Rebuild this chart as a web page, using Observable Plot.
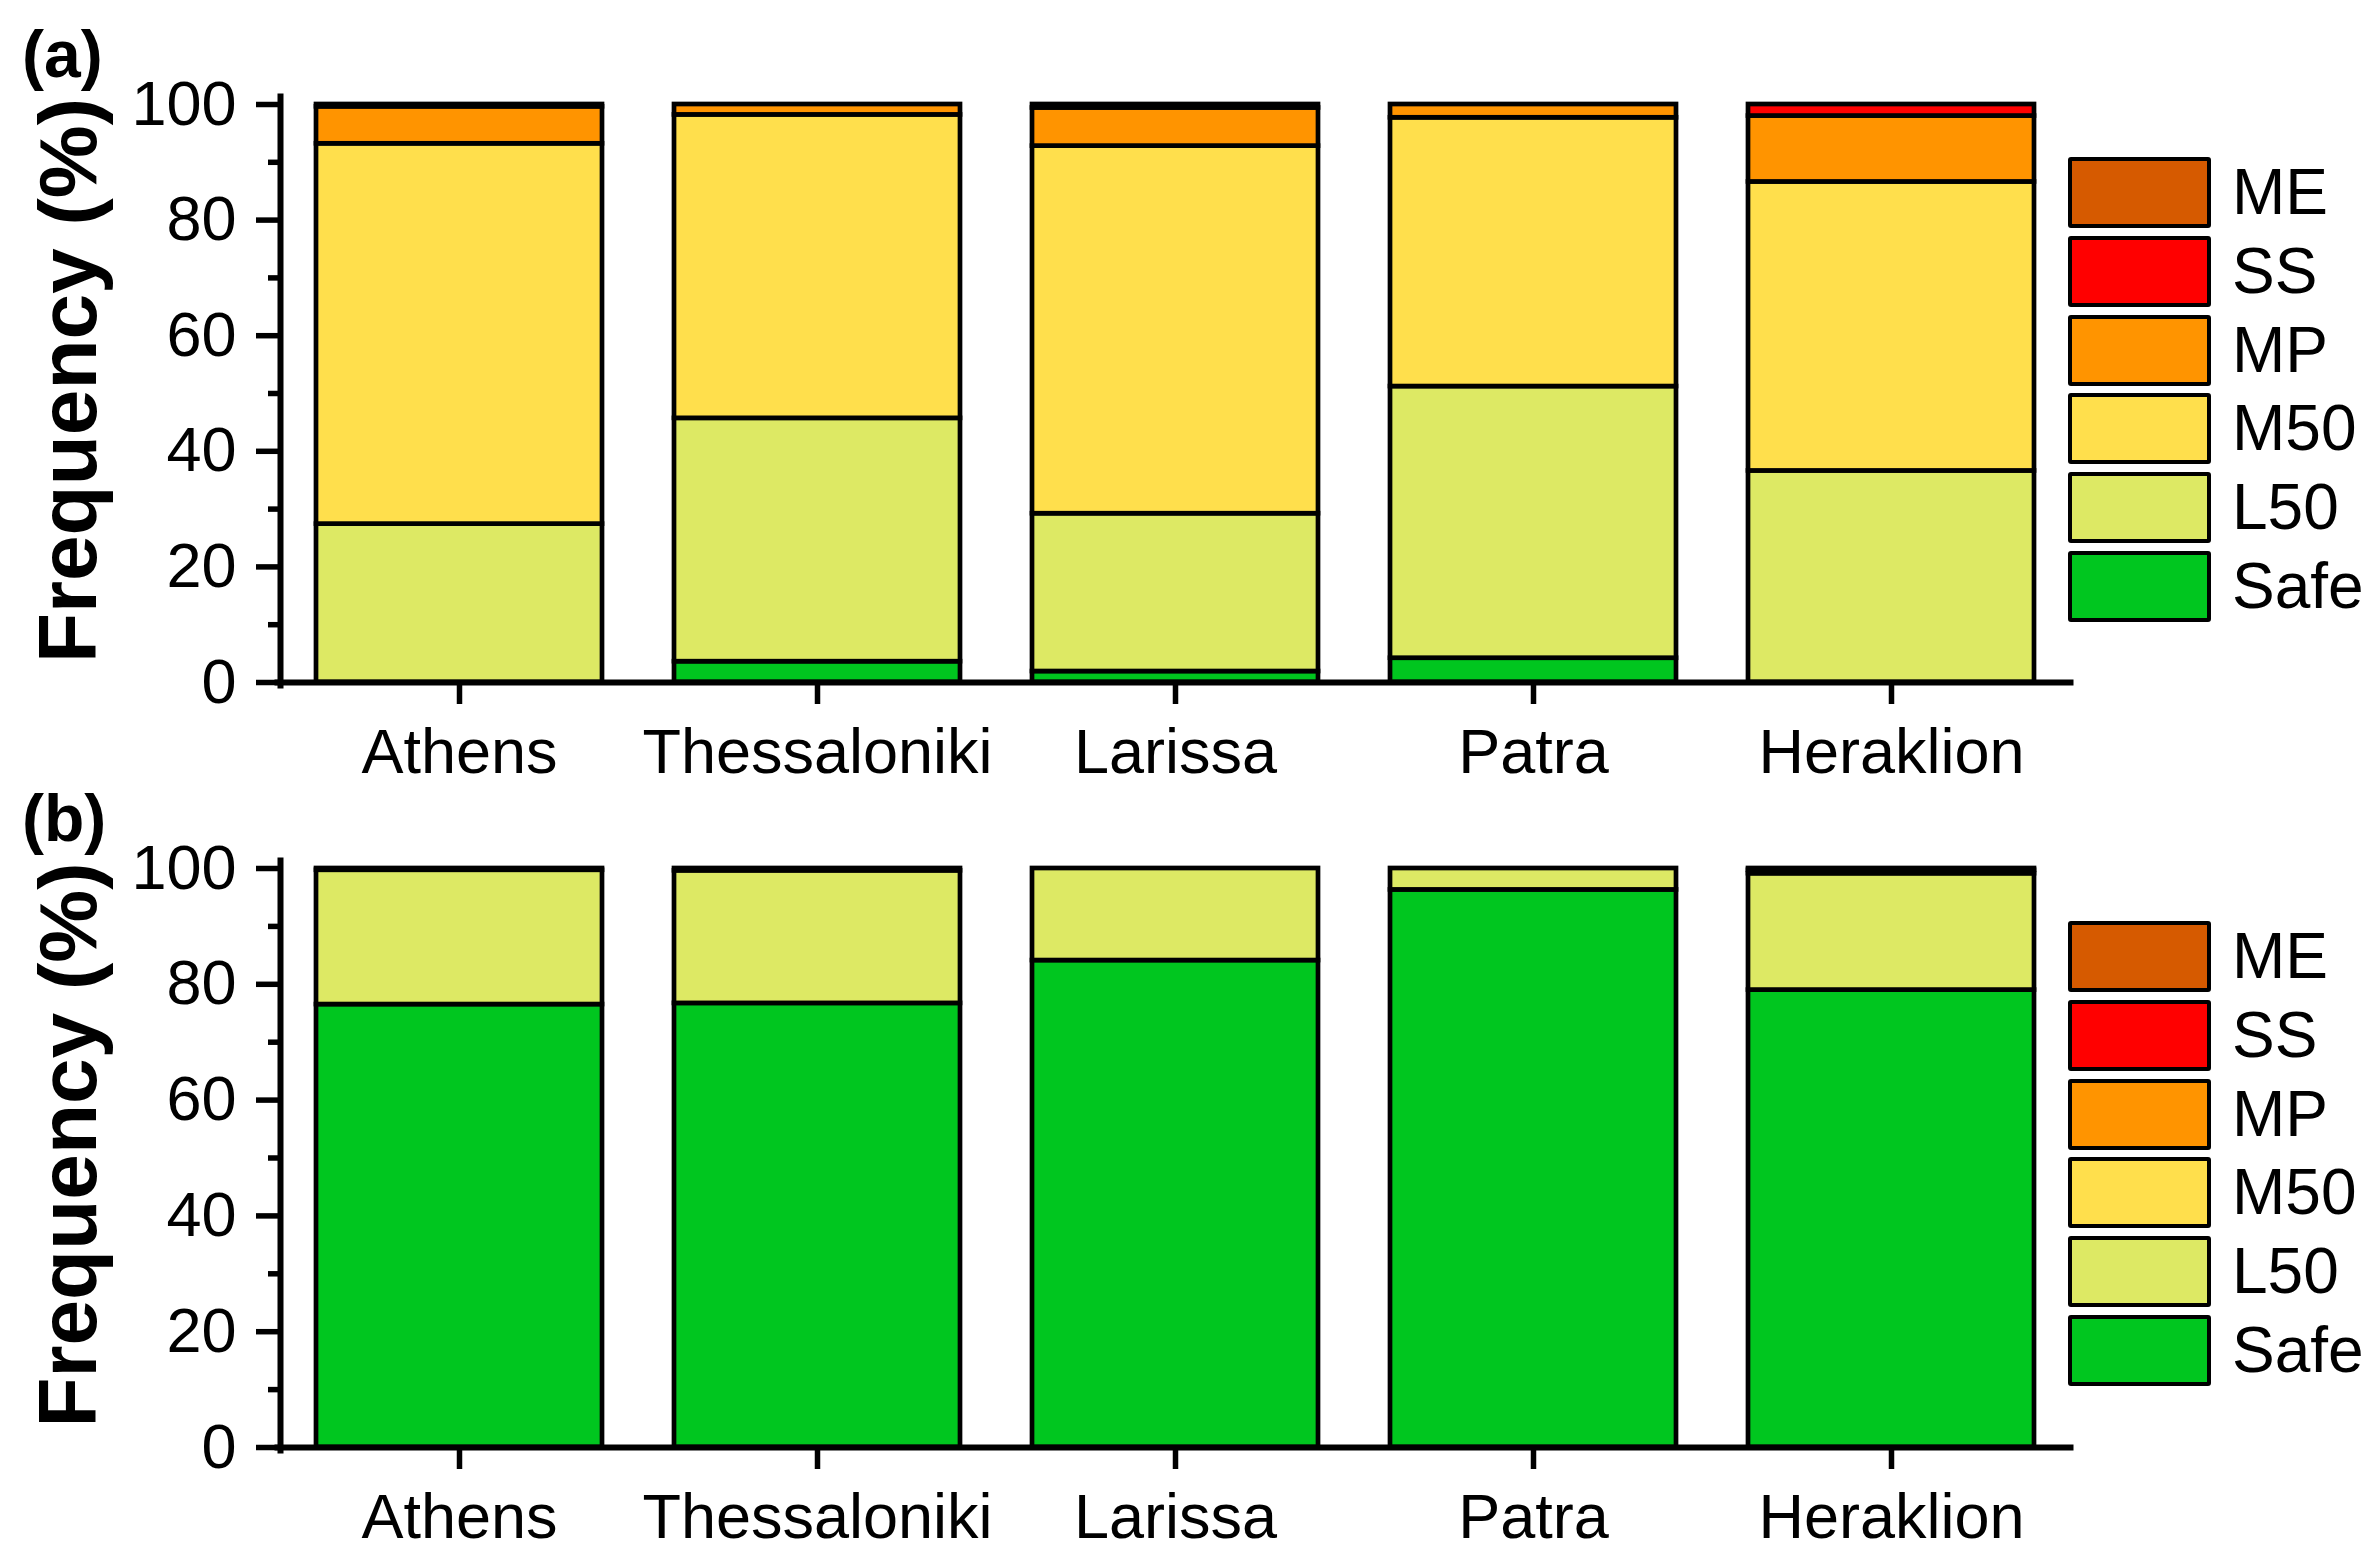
<!DOCTYPE html>
<html>
<head>
<meta charset="utf-8">
<script src="https://cdn.jsdelivr.net/npm/d3@7"></script>
<script src="https://cdn.jsdelivr.net/npm/@observablehq/plot@0.6"></script>
<style>
  body { margin: 0; background: #fff; font-family: "Liberation Sans", Arial, sans-serif; color: #000; }
  #fig { position: relative; width: 2376px; height: 1567px; overflow: hidden; background: #fff; }
  .panel { position: absolute; left: 0; width: 2376px; }
  .panel svg { position: absolute; left: 0; top: 0; overflow: visible; }
  .tag { position: absolute; left: 22px; font-weight: bold; font-size: 66px; line-height: 1; }
  .key { position: absolute; left: 2068px; }
  .key .sw { position: absolute; left: 0; width: 143px; height: 71px; box-sizing: border-box;
             border: 4.5px solid #000; border-radius: 3px; }
  .key .lb { position: absolute; left: 164px; height: 71px; line-height: 71px; font-size: 64px; white-space: nowrap; }
</style>
</head>
<body>
<div id="fig"></div>
<script>
// Cities along the x axis
const cities = ["Athens", "Thessaloniki", "Larissa", "Patra", "Heraklion"];
// Classes, stacked from the bottom up
const categories = ["Safe", "L50", "M50", "MP", "SS", "ME"];
const colors = ["#00C61F", "#DDE964", "#FFDF4C", "#FF9400", "#FF0000", "#D65A00"];

// Panel (a): frequency (%) per class, one value per city
const aSafe = [0, 3.6, 1.9, 4.2, 0];
const aL50  = [27.4, 42.1, 27.3, 47.0, 36.6];
const aM50  = [65.8, 52.5, 63.6, 46.5, 50.0];
const aMP   = [6.4, 1.8, 6.6, 2.3, 11.4];
const aSS   = [0, 0, 0, 0, 2.0];
const aME   = [0.4, 0, 0.6, 0, 0];

// Panel (b): frequency (%) per class, one value per city
const bSafe = [76.5, 76.7, 84.1, 96.3, 79.0];
const bL50  = [23.2, 22.9, 15.9, 3.7, 20.1];
const bM50  = [0.3, 0.4, 0, 0, 0.6];
const bMP   = [0, 0, 0, 0, 0.3];
const bSS   = [0, 0, 0, 0, 0];
const bME   = [0, 0, 0, 0, 0];

// Axis ticks
const majorTicks = [0, 20, 40, 60, 80, 100];
const minorTicks = [10, 30, 50, 70, 90];
const yTitle = "Frequency (%)";

const fig = document.getElementById("fig");

function drawPanel(tag, series, top, height, marginTop, marginBottom) {
  const rows = cities.flatMap((city, i) =>
    categories.map((cat, j) => ({city, cat, value: series[j][i]})));

  const wrap = document.createElement("div");
  wrap.className = "panel";
  wrap.style.top = top + "px";
  wrap.style.height = height + "px";

  const chart = Plot.plot({
    width: 2376,
    height,
    marginLeft: 280,
    marginRight: 306,
    marginTop,
    marginBottom,
    style: {fontFamily: "'Liberation Sans', Arial, sans-serif", background: "transparent", overflow: "visible", color: "#000"},
    x: {domain: cities, paddingInner: 0.2, paddingOuter: 0.1, label: null},
    y: {domain: [0, 100], label: null},
    color: {domain: categories, range: colors},
    marks: [
      Plot.barY(rows, {x: "city", y: "value", fill: "cat", order: categories,
                       stroke: "#000", strokeWidth: 4.7, strokeLinejoin: "miter"}),
      Plot.frame({anchor: "left", stroke: "#000", strokeWidth: 6, insetTop: -8, insetBottom: -3}),
      Plot.frame({anchor: "bottom", stroke: "#000", strokeWidth: 6, insetLeft: -3}),
      Plot.axisY({ticks: majorTicks, tickSize: 24, tickPadding: 20, strokeWidth: 5.5,
                  fontSize: 63, label: null, tickFormat: d => String(d)}),
      Plot.axisY({ticks: minorTicks, tickSize: 12, strokeWidth: 5.5, label: null, tickFormat: () => ""}),
      Plot.axisX({tickSize: 22, tickPadding: 24, strokeWidth: 5.5, fontSize: 63, label: null}),
      Plot.text([yTitle], {frameAnchor: "left", textAnchor: "middle", rotate: -90, dx: -211, dy: -13,
                           fontSize: 82, fontWeight: "bold", lineAnchor: "middle"})
    ]
  });
  wrap.appendChild(chart);

  const t = document.createElement("div");
  t.className = "tag";
  t.style.top = (marginTop - 83) + "px";
  t.textContent = tag;
  wrap.appendChild(t);

  // Legend, top entry is the last stacked class
  const key = document.createElement("div");
  key.className = "key";
  key.style.top = (marginTop + 53) + "px";
  categories.slice().reverse().forEach((cat, i) => {
    const sw = document.createElement("div");
    sw.className = "sw";
    sw.style.top = (i * 78.8) + "px";
    sw.style.background = colors[categories.indexOf(cat)];
    const lb = document.createElement("div");
    lb.className = "lb";
    lb.style.top = (i * 78.8) + "px";
    lb.textContent = cat;
    key.appendChild(sw);
    key.appendChild(lb);
  });
  wrap.appendChild(key);

  fig.appendChild(wrap);
}

drawPanel("(a)", [aSafe, aL50, aM50, aMP, aSS, aME], 0, 783, 104, 101);
drawPanel("(b)", [bSafe, bL50, bM50, bMP, bSS, bME], 783, 784, 85, 120);
</script>
</body>
</html>
